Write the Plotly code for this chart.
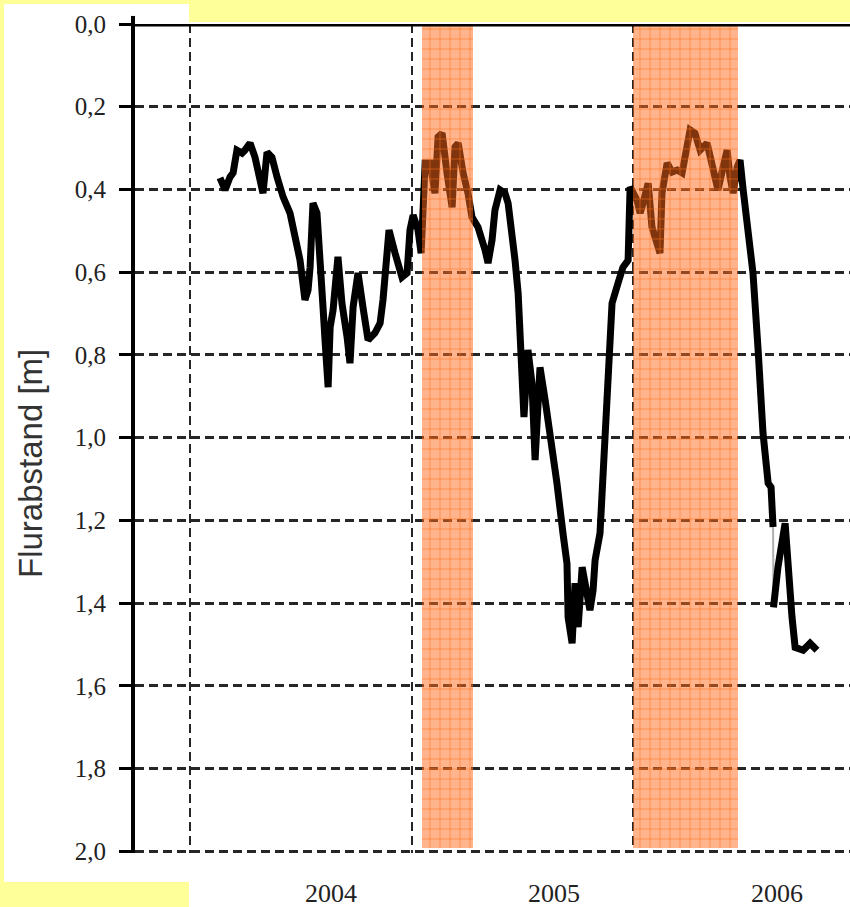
import plotly.graph_objects as go

# ---- data (decimal years, depth below surface in m) ----
years = [2003.502, 2003.525, 2003.547, 2003.561, 2003.578, 2003.601, 2003.614, 2003.637, 2003.659, 2003.682,
         2003.695, 2003.713, 2003.735, 2003.758, 2003.785, 2003.816, 2003.839, 2003.861, 2003.883, 2003.897,
         2003.906, 2003.915, 2003.919, 2003.937, 2003.951, 2003.964, 2003.973, 2003.987, 2003.996, 2004.009,
         2004.031, 2004.049, 2004.072, 2004.085, 2004.099, 2004.121, 2004.143, 2004.166, 2004.197, 2004.220,
         2004.233, 2004.251, 2004.260, 2004.287, 2004.318, 2004.341, 2004.354, 2004.368, 2004.390, 2004.404,
         2004.413, 2004.422, 2004.444, 2004.466, 2004.480, 2004.498, 2004.520, 2004.543, 2004.556, 2004.570,
         2004.592, 2004.614, 2004.632, 2004.659, 2004.691, 2004.704, 2004.722, 2004.735, 2004.758, 2004.780,
         2004.794, 2004.812, 2004.825, 2004.839, 2004.848, 2004.857, 2004.865, 2004.883, 2004.901, 2004.915,
         2004.924, 2004.937, 2004.960, 2004.982, 2005.013, 2005.040, 2005.058, 2005.063, 2005.081, 2005.094,
         2005.108, 2005.126, 2005.148, 2005.161, 2005.175, 2005.184, 2005.206, 2005.220, 2005.238, 2005.251,
         2005.260, 2005.287, 2005.309, 2005.332, 2005.341, 2005.372, 2005.386, 2005.399, 2005.422, 2005.439,
         2005.462, 2005.475, 2005.484, 2005.507, 2005.529, 2005.552, 2005.574, 2005.596, 2005.610, 2005.632,
         2005.655, 2005.686, 2005.713, 2005.735, 2005.758, 2005.776, 2005.789, 2005.803, 2005.821, 2005.834,
         2005.848, 2005.879, 2005.892, 2005.915, 2005.937, 2005.960, 2005.973, 2005.982,
         None,
         2005.984, 2006.004, 2006.036, 2006.049, 2006.067, 2006.081, 2006.117, 2006.148, 2006.179]

depth = [0.372, 0.401, 0.370, 0.360, 0.305, 0.312, 0.305, 0.288, 0.322, 0.377,
         0.409, 0.310, 0.322, 0.370, 0.418, 0.457, 0.515, 0.571, 0.667, 0.643,
         0.588, 0.505, 0.433, 0.457, 0.554, 0.684, 0.764, 0.878, 0.733, 0.692,
         0.563, 0.675, 0.757, 0.820, 0.684, 0.602, 0.684, 0.764, 0.747, 0.723,
         0.667, 0.554, 0.498, 0.554, 0.612, 0.602, 0.498, 0.462, 0.498, 0.554,
         0.474, 0.336, 0.336, 0.409, 0.273, 0.264, 0.360, 0.443, 0.297, 0.288,
         0.360, 0.409, 0.467, 0.491, 0.547, 0.578, 0.522, 0.450, 0.401, 0.409,
         0.433, 0.498, 0.571, 0.651, 0.764, 0.909, 0.950, 0.788, 0.868, 1.054,
         0.926, 0.830, 0.909, 0.989, 1.110, 1.231, 1.304, 1.434, 1.497, 1.352,
         1.458, 1.313, 1.369, 1.417, 1.369, 1.296, 1.231, 1.071, 0.950, 0.788,
         0.675, 0.626, 0.588, 0.571, 0.394, 0.426, 0.457, 0.433, 0.385, 0.491,
         0.539, 0.554, 0.409, 0.336, 0.358, 0.353, 0.360, 0.288, 0.256, 0.264,
         0.305, 0.288, 0.360, 0.401, 0.346, 0.305, 0.370, 0.409, 0.346, 0.329,
         0.401, 0.539, 0.602, 0.788, 0.989, 1.110, 1.120, 1.216,
         None,
         1.410, 1.313, 1.207, 1.313, 1.434, 1.507, 1.514, 1.497, 1.514]

band_start = [2004.408, 2005.354]
band_end = [2004.637, 2005.825]
band_depth = [1.993, 1.993]

y_ticks = [0.0, 0.2, 0.4, 0.6, 0.8, 1.0, 1.2, 1.4, 1.6, 1.8, 2.0]
x_tick_years = [2004, 2005, 2006]
x_tick_labels = ["2004", "2005", "2006"]
grid_years = [2003.368, 2004.361, 2005.354]

y_title = "Flurabstand [m]"

# ---- figure ----
fig = go.Figure()

# thin grey connector across the data gap
gi = years.index(None)
fig.add_trace(go.Scatter(
    x=[years[gi - 1], years[gi + 1]], y=[depth[gi - 1], depth[gi + 1]],
    mode="lines", line=dict(color="#b0b0b0", width=2), hoverinfo="skip"))

fig.add_trace(go.Scatter(
    x=years, y=depth, mode="lines", connectgaps=False,
    line=dict(color="black", width=7), name="Flurabstand"))

centers = [(a + b) / 2 for a, b in zip(band_start, band_end)]
widths = [b - a for a, b in zip(band_start, band_end)]
fig.add_trace(go.Bar(
    x=centers, y=band_depth, width=widths, base=0,
    xaxis="x2", yaxis="y2",
    marker=dict(
        color="rgba(255,105,25,0.5)",
        line=dict(width=0),
        pattern=dict(shape="+", size=10, solidity=0.12,
                     fgcolor="rgb(255,110,15)", fgopacity=0.85,
                     bgcolor="rgba(255,105,25,0.5)", fillmode="replace")),
    hoverinfo="skip"))

grid_dash = "9px,5px"
grid_color = "#262626"
fig.update_layout(
    width=850, height=907,
    margin=dict(l=135, r=0, t=24, b=54, pad=0),
    paper_bgcolor="#FFFF99", plot_bgcolor="white",
    showlegend=False, separators=",.",
    bargap=0,
    xaxis=dict(
        range=[2003.121, 2006.327],
        tickmode="array", tickvals=x_tick_years, ticktext=x_tick_labels,
        ticks="", showgrid=False, showline=False, zeroline=False,
        ticklabelstandoff=22,
        tickfont=dict(family="Liberation Serif", size=26, color="#222"),
        minor=dict(tickmode="array", tickvals=grid_years, showgrid=True,
                   gridcolor=grid_color, griddash=grid_dash, gridwidth=2, ticks=""),
    ),
    yaxis=dict(
        range=[2.004, 0.0],
        tickmode="array", tickvals=y_ticks, tickformat=".1f",
        ticks="outside", ticklen=12, tickwidth=3, tickcolor="black",
        showline=True, linewidth=4, linecolor="black",
        showgrid=True, gridcolor=grid_color, griddash=grid_dash, gridwidth=2.5,
        zeroline=False, ticklabelstandoff=8,
        tickfont=dict(family="Liberation Serif", size=25, color="#222"),
    ),
    xaxis2=dict(overlaying="x", matches="x", visible=False),
    yaxis2=dict(overlaying="y", matches="y", visible=False),
)

# white panels of the (cropped) chart on the yellow page
fig.add_shape(type="rect", xref="paper", yref="paper", layer="below",
              x0=-0.1832, x1=0.0755, y0=-0.035, y1=1.0241,
              fillcolor="white", line=dict(width=0))
fig.add_shape(type="rect", xref="paper", yref="paper", layer="below",
              x0=0.0755, x1=1.0, y0=-0.0651, y1=1.0024,
              fillcolor="white", line=dict(width=0))
# heavy top axis line at depth 0
fig.add_shape(type="line", xref="paper", yref="y", layer="above",
              x0=0, x1=1, y0=0, y1=0, line=dict(color="black", width=5))
fig.add_shape(type="line", xref="paper", yref="paper", layer="above",
              x0=-0.0028, x1=-0.0028, y0=1.0, y1=1.0097, line=dict(color="black", width=4))

fig.add_annotation(
    text=y_title, xref="paper", yref="paper", x=-0.1469, y=0.4704,
    textangle=-90, showarrow=False, xanchor="center", yanchor="middle",
    font=dict(family="Liberation Sans", size=33, color="#333"))

fig.write_html("out.html", config={"displayModeBar": False},
               post_script="document.body.style.margin='0';document.body.style.overflow='hidden';")
